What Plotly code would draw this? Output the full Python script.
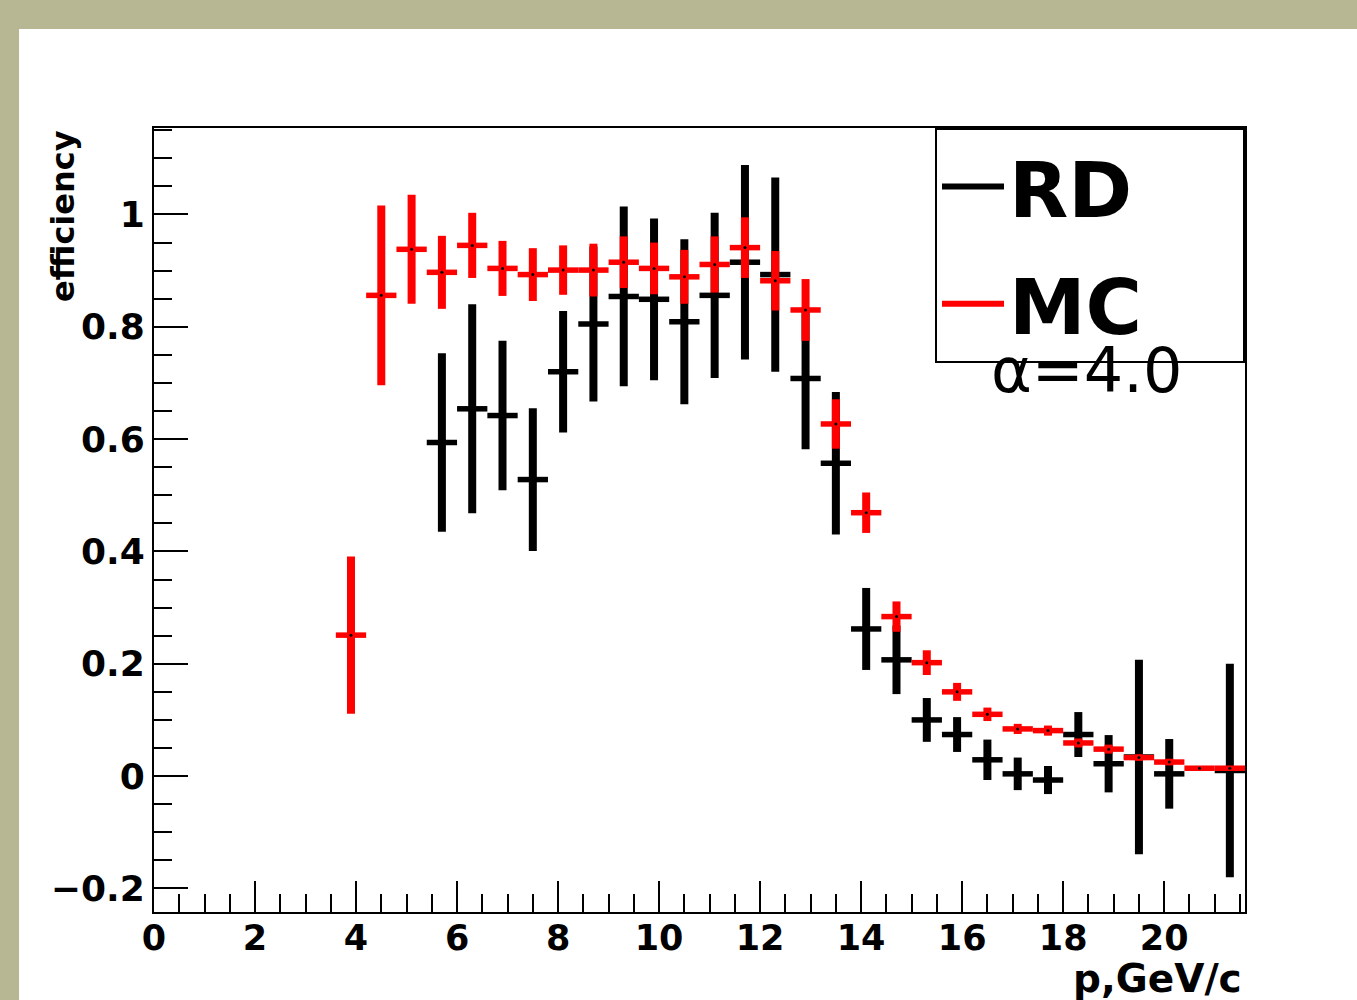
import plotly.graph_objects as go

# ---------------- data ----------------
mc_p = [3.9, 4.5, 5.1, 5.7, 6.3, 6.9, 7.5, 8.1, 8.7, 9.3, 9.9, 10.5, 11.1, 11.7, 12.3,
        12.9, 13.5, 14.1, 14.7, 15.3, 15.9, 16.5, 17.1, 17.7, 18.3, 18.9, 19.5, 20.1, 20.7, 21.3]
mc_eff = [0.251, 0.856, 0.938, 0.897, 0.945, 0.904, 0.893, 0.901, 0.901, 0.915, 0.904, 0.889,
          0.911, 0.941, 0.882, 0.830, 0.627, 0.469, 0.284, 0.202, 0.150, 0.110, 0.084, 0.081,
          0.059, 0.048, 0.033, 0.025, 0.014, 0.014]
mc_err = [0.140, 0.160, 0.097, 0.065, 0.058, 0.049, 0.047, 0.044, 0.047, 0.046, 0.046, 0.048,
          0.050, 0.054, 0.053, 0.055, 0.044, 0.036, 0.027, 0.022, 0.016, 0.012, 0.009, 0.009,
          0.008, 0.008, 0.006, 0.006, 0.004, 0.004]

rd_p = [5.7, 6.3, 6.9, 7.5, 8.1, 8.7, 9.3, 9.9, 10.5, 11.1, 11.7, 12.3, 12.9, 13.5, 14.1,
        14.7, 15.3, 15.9, 16.5, 17.1, 17.7, 18.3, 18.9, 19.5, 20.1, 21.3]
rd_eff = [0.594, 0.654, 0.642, 0.528, 0.720, 0.805, 0.854, 0.849, 0.809, 0.856, 0.915, 0.893,
          0.708, 0.557, 0.262, 0.207, 0.100, 0.074, 0.029, 0.004, -0.007, 0.074, 0.022, 0.034,
          0.004, 0.010]
rd_err = [0.159, 0.186, 0.133, 0.127, 0.108, 0.138, 0.160, 0.144, 0.147, 0.147, 0.173, 0.173,
          0.126, 0.127, 0.073, 0.061, 0.039, 0.031, 0.036, 0.029, 0.025, 0.040, 0.051, 0.173,
          0.062, 0.190]

bin_half_width = 0.3

series_names = ["RD", "MC"]
x_title = "p,GeV/c"
y_title = "efficiency"
note_text = "\u03b1=4.0"

# ---------------- figure ----------------
BOLD = dict(family="DejaVu Sans", weight="bold", color="black")
OLIVE = "#b7b793"

fig = go.Figure()


def add_series(x, y, err, color):
    fig.add_trace(go.Scatter(
        x=x, y=y, mode="markers",
        marker=dict(size=3, color="black", line=dict(width=0)),
        error_y=dict(type="data", array=err, visible=True, color=color,
                     thickness=8, width=0),
        error_x=dict(type="constant", value=bin_half_width, visible=True, color=color,
                     thickness=5.5, width=0),
        showlegend=False, hoverinfo="x+y",
    ))


add_series(rd_p, rd_eff, rd_err, "black")
add_series(mc_p, mc_eff, mc_err, "red")

pad = "\u00a0" * 3 + "\u2009"
for name, color, grp in [(series_names[0], "black", "a"), (series_names[1], "red", "b")]:
    fig.add_trace(go.Scatter(x=[None], y=[None], mode="lines",
                             line=dict(color=color, width=6),
                             name=name + pad, legendgroup=grp, showlegend=True))

fig.update_layout(
    width=1357, height=1000,
    margin=dict(l=154, r=112, t=128, b=88, pad=0),
    paper_bgcolor=OLIVE,
    plot_bgcolor="white",
    showlegend=True,
    legend=dict(x=1, xanchor="right", y=1, yanchor="top",
                bgcolor="white", bordercolor="black", borderwidth=2,
                font=dict(family="DejaVu Sans", weight="bold", size=77, color="black"),
                itemwidth=62, tracegroupgap=14, traceorder="grouped"),
    xaxis=dict(range=[0, 21.6], dtick=2, tick0=0, showgrid=False, zeroline=False,
               showline=True, linecolor="black", linewidth=2, mirror=True,
               ticks="inside", ticklen=31, tickwidth=2, tickcolor="black",
               tickfont=dict(size=35, **BOLD), ticklabelstandoff=-6,
               minor=dict(dtick=0.5, ticks="inside", ticklen=18, tickwidth=2,
                          tickcolor="black", showgrid=False)),
    yaxis=dict(range=[-0.242, 1.154], dtick=0.2, tick0=0, showgrid=False, zeroline=False,
               showline=True, linecolor="black", linewidth=2, mirror=True,
               ticks="inside", ticklen=34, tickwidth=2, tickcolor="black",
               tickfont=dict(size=36, **BOLD),
               minor=dict(dtick=0.05, ticks="inside", ticklen=18, tickwidth=2,
                          tickcolor="black", showgrid=False)),
    shapes=[dict(type="rect", xref="paper", yref="paper",
                 x0=-0.1237, x1=1.11, y0=-0.12, y1=1.1263,
                 fillcolor="white", line=dict(width=0), layer="below")],
    annotations=[
        dict(text=y_title, xref="paper", yref="paper", x=-0.0834, y=1.0,
             xanchor="center", yanchor="top", textangle=-90, showarrow=False,
             font=dict(size=32, **BOLD)),
        dict(text=x_title, xref="paper", yref="paper", x=0.999, y=-0.0845,
             xanchor="right", yanchor="middle", showarrow=False,
             font=dict(size=39, **BOLD)),
        dict(text=note_text, xref="paper", yref="paper", x=0.855, y=0.691,
             xanchor="center", yanchor="middle", showarrow=False,
             font=dict(family="DejaVu Sans", size=62, color="black")),
    ],
)

fig.write_html("out.html", config={"displayModeBar": False},
               post_script="document.body.style.margin='0px';document.body.style.overflow='hidden';")
